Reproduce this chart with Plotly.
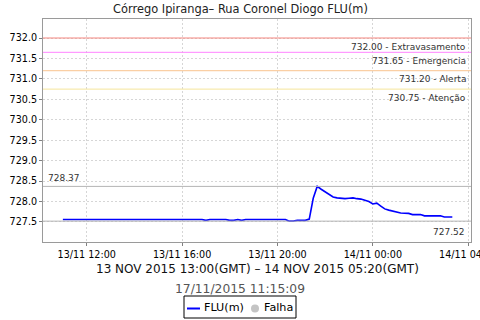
import plotly.graph_objects as go

# ---- data ----
times = [
    "2015-11-13 11:00", "2015-11-13 16:50", "2015-11-13 17:00", "2015-11-13 17:10",
    "2015-11-13 17:50", "2015-11-13 18:00", "2015-11-13 18:10", "2015-11-13 18:20",
    "2015-11-13 18:30", "2015-11-13 18:40", "2015-11-13 20:20", "2015-11-13 20:30",
    "2015-11-13 20:40", "2015-11-13 20:50", "2015-11-13 21:10", "2015-11-13 21:20",
    "2015-11-13 21:30", "2015-11-13 21:40", "2015-11-13 21:50", "2015-11-13 22:00",
    "2015-11-13 22:10", "2015-11-13 22:20", "2015-11-13 22:30", "2015-11-13 22:50",
    "2015-11-13 23:00", "2015-11-13 23:10", "2015-11-13 23:20", "2015-11-13 23:30",
    "2015-11-13 23:40", "2015-11-13 23:50", "2015-11-14 00:00", "2015-11-14 00:10",
    "2015-11-14 00:20", "2015-11-14 00:30", "2015-11-14 00:40", "2015-11-14 01:00",
    "2015-11-14 01:10", "2015-11-14 01:30", "2015-11-14 01:40", "2015-11-14 02:00",
    "2015-11-14 02:10", "2015-11-14 02:50", "2015-11-14 03:00", "2015-11-14 03:20",
]
flu = [
    727.56, 727.56, 727.54, 727.56,
    727.56, 727.54, 727.54, 727.56,
    727.54, 727.56, 727.56, 727.52,
    727.52, 727.54, 727.54, 727.57,
    728.08, 728.37, 728.30, 728.24,
    728.18, 728.11, 728.09, 728.07,
    728.08, 728.09, 728.07, 728.06,
    728.03, 728.00, 727.94, 727.96,
    727.89, 727.82, 727.79, 727.75,
    727.72, 727.71, 727.68, 727.68,
    727.65, 727.65, 727.62, 727.62,
]
threshold_values = [732.00, 731.65, 731.20, 730.75]
threshold_names = ["Extravasamento", "Emergencia", "Alerta", "Atenção"]
threshold_colors = ["#F4857F", "#FF85FF", "#F9C38E", "#F5E59A"]
max_value = 728.37
min_value = 727.52

title_text = "Córrego Ipiranga– Rua Coronel Diogo FLU(m)"
period_text = "13 NOV 2015 13:00(GMT) – 14 NOV 2015 05:20(GMT)"
stamp_text = "17/11/2015 11:15:09"

FONT = "DejaVu Sans"
W, H = 480, 320
L, R, T, B = 43, 9, 19, 78
PH = H - T - B
PW = W - L - R


def py(ypix):
    return (H - B - ypix) / PH


def px(xpix):
    return (xpix - L) / PW


fig = go.Figure()
fig.add_trace(go.Scatter(x=times, y=flu, mode="lines",
                         line=dict(color="#0000FF", width=1.6),
                         name="FLU(m)", showlegend=False))

shapes = []
annotations = []
for v, n, c in zip(threshold_values, threshold_names, threshold_colors):
    shapes.append(dict(type="line", xref="paper", x0=0, x1=1, yref="y", y0=v, y1=v,
                       line=dict(color=c, width=1)))
    annotations.append(dict(xref="paper", x=px(468), xanchor="right", yref="y", y=v,
                            yanchor="middle", yshift=-8.5, showarrow=False,
                            text=f"{v:.2f} - {n}",
                            font=dict(family=FONT, size=9, color="#333333")))
for v in (max_value, min_value):
    shapes.append(dict(type="line", xref="paper", x0=0, x1=1, yref="y", y0=v, y1=v,
                       line=dict(color="#B4B4B4", width=1)))
annotations.append(dict(xref="paper", x=px(46), xanchor="left", yref="y", y=max_value,
                        yanchor="bottom", yshift=1, showarrow=False, text=f"{max_value:.2f}",
                        font=dict(family=FONT, size=9, color="#333333")))
annotations.append(dict(xref="paper", x=px(467), xanchor="right", yref="y", y=min_value,
                        yanchor="top", yshift=-4, showarrow=False, text=f"{min_value:.2f}",
                        font=dict(family=FONT, size=9, color="#333333")))

# texts below the plot
annotations.append(dict(xref="paper", x=px(257), xanchor="center", yref="paper", y=py(269),
                        yanchor="middle", showarrow=False, text=period_text,
                        font=dict(family=FONT, size=12, color="#111111")))
annotations.append(dict(xref="paper", x=px(240), xanchor="center", yref="paper", y=py(288.5),
                        yanchor="middle", showarrow=False, text=stamp_text,
                        font=dict(family=FONT, size=12.3, color="#555555")))

# legend box (drawn manually)
shapes.append(dict(type="rect", xref="paper", yref="paper", x0=px(184), x1=px(296),
                   y0=py(296), y1=py(318), line=dict(color="#000000", width=1),
                   fillcolor="white"))
shapes.append(dict(type="line", xref="paper", yref="paper", x0=px(187), x1=px(200),
                   y0=py(308.5), y1=py(308.5), line=dict(color="#0000FF", width=2)))
shapes.append(dict(type="circle", xref="paper", yref="paper", x0=px(251), x1=px(259),
                   y0=py(304.5), y1=py(312.5), line=dict(color="#C4C4C4", width=0),
                   fillcolor="#C4C4C4"))
annotations.append(dict(xref="paper", x=px(202), xanchor="left", yref="paper", y=py(307.5),
                        yanchor="middle", showarrow=False, text="FLU(m)",
                        font=dict(family=FONT, size=11.2, color="#000000")))
annotations.append(dict(xref="paper", x=px(262), xanchor="left", yref="paper", y=py(307.5),
                        yanchor="middle", showarrow=False, text="Falha",
                        font=dict(family=FONT, size=11.2, color="#000000")))

fig.update_layout(
    width=W, height=H,
    margin=dict(l=L, r=R, t=T, b=B, pad=0, autoexpand=False),
    paper_bgcolor="white", plot_bgcolor="white",
    title=dict(text=title_text, x=240.5 / W, xanchor="center", xref="container",
               y=1 - 9.5 / H, yanchor="middle",
               font=dict(family=FONT, size=11.4, color="#222222")),
    shapes=shapes, annotations=annotations,
    showlegend=False,
    font=dict(family=FONT),
)
fig.update_xaxes(
    type="date", range=["2015-11-13 10:10", "2015-11-14 04:07"],
    tick0="2015-11-13 00:00", dtick=4 * 3600 * 1000, tickformat="%d/%m %H:%M",
    ticks="outside", ticklen=3, tickcolor="#808080",
    tickfont=dict(family=FONT, size=9.6, color="#000000"),
    ticklabeloverflow="allow", automargin=False,
    showgrid=True, gridcolor="#D6D6D6", griddash="2px,2px", gridwidth=1,
    showline=True, linecolor="#9A9A9A", linewidth=1, mirror=True,
    zeroline=False,
)
fig.update_yaxes(
    range=[727.01, 732.465], tick0=727.5, dtick=0.5, tickformat=".1f",
    ticks="outside", ticklen=3, tickcolor="#808080",
    tickfont=dict(family=FONT, size=9.6, color="#000000"),
    automargin=False,
    showgrid=True, gridcolor="#D6D6D6", griddash="2px,2px", gridwidth=1,
    showline=True, linecolor="#9A9A9A", linewidth=1, mirror=True,
    zeroline=False,
)

fig.write_html("out.html")
